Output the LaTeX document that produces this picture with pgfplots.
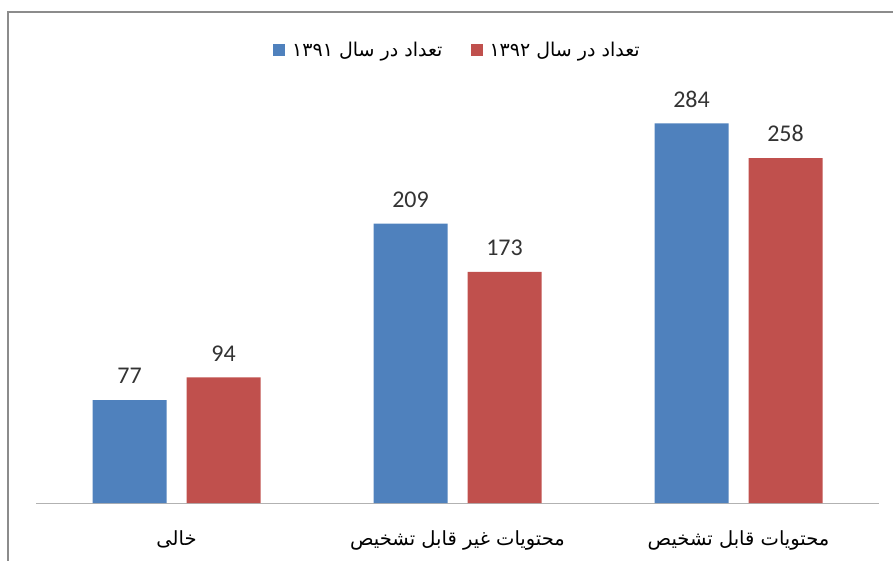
\documentclass[border=0pt]{standalone}
\usepackage{fontspec}
\setmainfont{Carlito}
\newfontfamily\arabicfont[Script=Arabic]{DejaVu Sans}
\TeXXeTstate=1
\usepackage{pgfplots}
\pgfplotsset{compat=1.18}
\definecolor{cblue}{HTML}{4F81BD}
\definecolor{cred}{HTML}{C0504D}
\begin{document}
\begin{tikzpicture}[x=1pt,y=1pt]
\useasboundingbox (0,0) rectangle (893,560);
\draw[line width=1.5pt, black!45] (8,-20) -- (8,548) -- (920,548);
\begin{axis}[
  at={(36pt,57pt)}, anchor=south west,
  scale only axis, width=843pt, height=401pt,
  ymin=0, ymax=300, xmin=-0.5, xmax=2.5,
  ybar=20pt, bar width=74pt,
  /pgf/number format/assume math mode=true,
  axis x line=bottom, axis y line=none,
  x axis line style={-, black!30, line width=1pt},
  xtick={0,1,2}, xtick style={draw=none},
  xticklabels={{\beginR خالی\endR},{\beginR محتویات غیر قابل تشخیص\endR},{\beginR محتویات قابل تشخیص\endR}},
  xticklabel style={font=\arabicfont\fontsize{19.5}{22}\selectfont, yshift=-22pt},
  nodes near coords,
  every node near coord/.append style={font=\fontsize{24}{28}\selectfont, color=black!80, anchor=south, inner sep=0pt, yshift=16pt},
  legend columns=2,
  legend style={draw=none, at={(0.5,1.16)}, anchor=north, font=\arabicfont\fontsize{19}{22}\selectfont,
    /tikz/every even column/.append style={column sep=26pt}},
  legend image code/.code={\fill[#1] (-6pt,-6pt) rectangle (6pt,6pt);},
]
\addplot[fill=cblue, draw=none] coordinates {(0,77) (1,209) (2,284)};
\addplot[fill=cred, draw=none] coordinates {(0,94) (1,173) (2,258)};
\legend{{\hspace*{5pt}\beginR تعداد در سال ۱۳۹۱\endR},{\hspace*{5pt}\beginR تعداد در سال ۱۳۹۲\endR}}
\end{axis}
\end{tikzpicture}
\end{document}
